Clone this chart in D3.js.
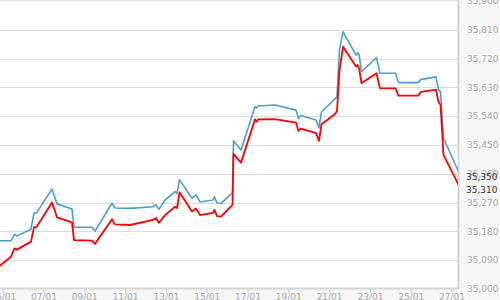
<!DOCTYPE html>
<html>
<head>
<meta charset="utf-8">
<script src="https://cdn.jsdelivr.net/npm/d3@7"></script>
<style>
  body { margin: 0; background: #fff; }
  svg { display: block; font-family: "DejaVu Sans", sans-serif; }
  .grid line { stroke: #dcdcdc; stroke-width: 1; }
  .tick-label { fill: #a8a8a8; font-size: 9px; }
  .last-label { fill: #333; font-size: 9px; }
</style>
</head>
<body>
<div id="chart"></div>
<script>
"use strict";

// timestamps shared by both series
var times = [
    "2015-01-04 18:00", "2015-01-05 09:10", "2015-01-05 13:20", "2015-01-05 16:15",
    "2015-01-06 08:42", "2015-01-06 12:14", "2015-01-06 15:10", "2015-01-07 09:25",
    "2015-01-07 15:18", "2015-01-08 08:56", "2015-01-08 11:17", "2015-01-09 08:28",
    "2015-01-09 12:00", "2015-01-10 08:00", "2015-01-10 11:32", "2015-01-11 05:10",
    "2015-01-12 08:14", "2015-01-12 11:46", "2015-01-12 15:18", "2015-01-12 22:23",
    "2015-01-13 10:08", "2015-01-13 12:29", "2015-01-13 15:25", "2015-01-14 06:07",
    "2015-01-14 10:50", "2015-01-14 15:32", "2015-01-15 06:50", "2015-01-15 08:36",
    "2015-01-15 11:32", "2015-01-15 16:14", "2015-01-16 05:46", "2015-01-16 06:57",
    "2015-01-16 15:46", "2015-01-17 08:14", "2015-01-17 10:00", "2015-01-17 11:46",
    "2015-01-18 07:46", "2015-01-19 08:28", "2015-01-19 11:25", "2015-01-19 14:21",
    "2015-01-20 08:00", "2015-01-20 11:32", "2015-01-20 14:28", "2015-01-21 06:23",
    "2015-01-21 08:42", "2015-01-21 11:38", "2015-01-21 15:46", "2015-01-22 07:04",
    "2015-01-22 08:50", "2015-01-22 10:35", "2015-01-22 13:32", "2015-01-23 07:10",
    "2015-01-23 11:17", "2015-01-24 05:32", "2015-01-24 09:03", "2015-01-25 08:00",
    "2015-01-25 11:32", "2015-01-26 05:10", "2015-01-26 08:06", "2015-01-26 10:28",
    "2015-01-26 14:00", "2015-01-27 10:35"
];

var blue_values = [
    35151, 35151, 35171, 35166, 35187, 35237, 35238, 35312,
    35266, 35250, 35193, 35193, 35181, 35268, 35253, 35252,
    35257, 35263, 35249, 35278, 35304, 35299, 35341, 35284,
    35294, 35272, 35278, 35288, 35269, 35267, 35301, 35463,
    35434, 35570, 35566, 35572, 35575, 35559, 35533, 35542,
    35528, 35504, 35554, 35594, 35600, 35747, 35804, 35731,
    35738, 35734, 35679, 35723, 35674, 35674, 35645, 35645,
    35655, 35663, 35623, 35616, 35471, 35350
];

var red_values = [
    35068, 35101, 35127, 35123, 35148, 35193, 35194, 35270,
    35224, 35208, 35153, 35151, 35141, 35218, 35202, 35200,
    35216, 35222, 35207, 35231, 35257, 35253, 35302, 35242,
    35252, 35231, 35238, 35247, 35228, 35226, 35263, 35422,
    35395, 35530, 35523, 35530, 35531, 35520, 35494, 35501,
    35487, 35463, 35515, 35547, 35556, 35684, 35757, 35695,
    35700, 35691, 35643, 35674, 35627, 35627, 35604, 35604,
    35616, 35623, 35585, 35575, 35419, 35310
];

var y_ticks = [35000, 35090, 35180, 35270, 35360, 35450, 35540, 35630, 35720, 35810, 35900];
var x_ticks = ["2015-01-05", "2015-01-07", "2015-01-09", "2015-01-11", "2015-01-13",
               "2015-01-15", "2015-01-17", "2015-01-19", "2015-01-21", "2015-01-23",
               "2015-01-25", "2015-01-27"];

var series = [
    { name: "blue", values: blue_values, color: "#4f9bcf", width: 1.6 },
    { name: "red", values: red_values, color: "#ff0000", width: 1.8 }
];

var width = 500, height = 300;
var plot = { left: 0, right: 458, top: 1, bottom: 288 };

var parse_time = d3.timeParse("%Y-%m-%d %H:%M");
var parse_day = d3.timeParse("%Y-%m-%d");
var dates = times.map(parse_time);

var x = d3.scaleTime()
    .domain([parse_day("2015-01-05"), parse_day("2015-01-27")])
    .range([3.2, 452]);
var y = d3.scaleLinear()
    .domain([35000, 35900])
    .range([289, 1]);

var fmt_num = d3.format(",");
var fmt_day = d3.timeFormat("%d/%m");

var svg = d3.select("#chart").append("svg")
    .attr("width", width)
    .attr("height", height);

// background panels
svg.append("rect")
    .attr("width", width).attr("height", height)
    .attr("fill", "#f6f6f6");
svg.append("rect")
    .attr("x", plot.left).attr("y", plot.top)
    .attr("width", plot.right - plot.left).attr("height", plot.bottom - plot.top)
    .attr("fill", "#fff");

svg.append("clipPath").attr("id", "plot-clip")
    .append("rect")
    .attr("x", plot.left).attr("y", plot.top)
    .attr("width", plot.right - plot.left).attr("height", plot.bottom - plot.top);

// horizontal grid
svg.append("g").attr("class", "grid")
    .selectAll("line")
    .data(y_ticks.filter(function(t) { return t > 35000 && t < 35900; }))
    .enter().append("line")
    .attr("x1", plot.left).attr("x2", plot.right)
    .attr("y1", function(d) { return Math.round(y(d)) + 0.5; })
    .attr("y2", function(d) { return Math.round(y(d)) + 0.5; });

// frame
svg.append("line")
    .attr("x1", plot.left).attr("x2", plot.right + 1)
    .attr("y1", plot.bottom + 0.5).attr("y2", plot.bottom + 0.5)
    .attr("stroke", "#d4d4d4").attr("stroke-width", 2);
svg.append("line")
    .attr("x1", plot.right + 0.5).attr("x2", plot.right + 0.5)
    .attr("y1", 0).attr("y2", plot.bottom + 1)
    .attr("stroke", "#d4d4d4").attr("stroke-width", 2);
svg.append("line")
    .attr("x1", plot.left).attr("x2", plot.right)
    .attr("y1", 0.5).attr("y2", 0.5)
    .attr("stroke", "#e4e4e4");

// lines
var line = d3.line()
    .x(function(d) { return x(d[0]); })
    .y(function(d) { return y(d[1]); });

var lines_g = svg.append("g").attr("clip-path", "url(#plot-clip)");
series.forEach(function(s) {
    var pts = dates.map(function(d, i) { return [d, s.values[i]]; });
    lines_g.append("path")
        .attr("d", line(pts))
        .attr("fill", "none")
        .attr("stroke", s.color)
        .attr("stroke-width", s.width)
        .attr("stroke-linejoin", "round");
});

// y tick labels (right side)
svg.append("g").selectAll("text")
    .data(y_ticks)
    .enter().append("text")
    .attr("class", "tick-label")
    .attr("x", 467)
    .attr("y", function(d) { return y(d); })
    .attr("dy", "0.35em")
    .text(fmt_num);

// x ticks + labels
var xt = svg.append("g").selectAll("g")
    .data(x_ticks.map(parse_day))
    .enter().append("g")
    .attr("transform", function(d) { return "translate(" + x(d) + ",0)"; });
xt.append("line")
    .attr("y1", plot.bottom).attr("y2", plot.bottom + 5)
    .attr("stroke", "#cfcfcf");
xt.append("text")
    .attr("class", "tick-label")
    .attr("y", 297)
    .attr("dy", "0.35em")
    .attr("text-anchor", "middle")
    .text(fmt_day);

// last value labels
series.forEach(function(s) {
    var last = s.values[s.values.length - 1];
    svg.append("text")
        .attr("class", "last-label")
        .attr("x", 466)
        .attr("y", y(last))
        .attr("dy", "0.3em")
        .text(fmt_num(last));
});
</script>
</body>
</html>
